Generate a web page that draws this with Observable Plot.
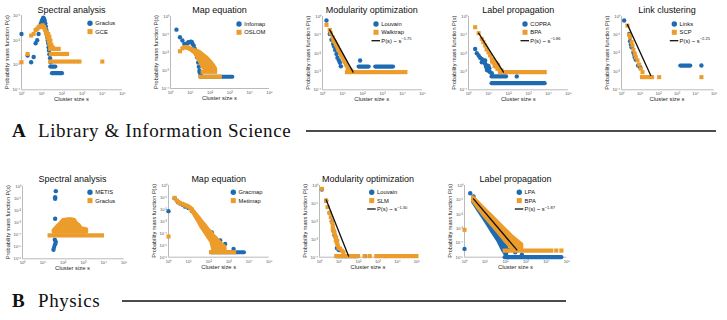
<!DOCTYPE html>
<html><head><meta charset="utf-8">
<script src="https://cdn.jsdelivr.net/npm/d3@7"></script>
<script src="https://cdn.jsdelivr.net/npm/@observablehq/plot@0.6"></script>
<style>
html,body{margin:0;padding:0;background:#fff;}
body{width:727px;height:320px;overflow:hidden;position:relative;font-family:"Liberation Sans",Arial,sans-serif;}
svg.panel{position:absolute;overflow:visible;background:transparent;}
#overlay{position:absolute;left:0;top:0;pointer-events:none;}
</style></head><body>
<script>
// ---------------- data ----------------
const xTicks = [1, 10, 100, 1e3, 1e4, 1e5];
const yTicks3 = [1e-4, 1e-3, 1e-2, 1e-1];
const yTicks4 = [1e-4, 1e-3, 1e-2, 1e-1, 1];
const yTicks5 = [1e-5, 1e-4, 1e-3, 1e-2, 1e-1, 1];
const yTicks6 = [1e-6, 1e-5, 1e-4, 1e-3, 1e-2, 1e-1, 1];

const titles = ["Spectral analysis","Map equation","Modularity optimization","Label propagation","Link clustering",
                "Spectral analysis","Map equation","Modularity optimization","Label propagation"];
const seriesNames = [["Graclus","GCE"],["Infomap","OSLOM"],["Louvain","Walktrap"],["COPRA","BPA"],["Links","SCP"],
                     ["METIS","Graclus"],["Gracmap","Metimap"],["Louvain","SLM"],["LPA","BPA"]];
const fitExponents = [null,null,"−1.75","−1.86","−2.25",null,null,"−1.30","−1.87"];
const sections = [["A","Library & Information Science"],["B","Physics"]];

// A1 Spectral analysis (LIS)
const a1GraclusPts = [[1,0.018],[2,0.0024],[3,0.0013],[4,0.0021],[5,0.0076],[6,0.01],[7,0.018],[8,0.034],[9,0.046],[10,0.059],[11,0.071],[12,0.081],[13,0.074],[14,0.063],[15,0.049],[16,0.036],[17,0.026],[18,0.018],[19,0.013],[20,0.0098],[21,0.0076],[22,0.0052],[23,0.0039],[24,0.0027],[26,0.0019],[28,0.0013]];
const a1GraclusBands = [[28,50,0.00087],[34,107,0.00047]];
const a1GcePts = [[1,0.0013],[2,0.0028],[3,0.0155],[4,0.018],[5,0.026],[6,0.029],[7,0.034],[8,0.036],[9,0.036],[10,0.034],[11,0.04],[12,0.036],[13,0.034],[14,0.029],[15,0.026],[16,0.021],[17,0.018],[18,0.021],[19,0.0155],[20,0.0126],[21,0.018],[22,0.0105],[23,0.0083],[24,0.014],[25,0.0067],[27,0.0098],[28,0.0052],[30,0.0066],[32,0.0045],[35,0.0052],[550,0.00138],[740,0.00138],[10000,0.00138]];
const a1GceBands = [[28,73,0.0045],[30,190,0.0028],[28,375,0.00138]];

// A2 Map equation (LIS)
const a2InfomapPts = [[2,0.186],[3,0.071],[4,0.046],[5,0.030],[6,0.030],[7,0.032],[8,0.037],[9,0.037],[10,0.039],[11,0.040],[12,0.037],[13,0.030],[15,0.024],[17,0.0155],[18,0.0117],[20,0.0083],[22,0.0054],[25,0.0028],[27,0.0016],[29,0.00098],[30,0.00078],[33,0.00058]];
const a2InfomapBands = [[35,1400,0.00045]];
const a2OslomPts = [[3,0.0117],[4,0.017],[5,0.0195],[6,0.0195],[7,0.0195],[8,0.0178],[9,0.017],[10,0.0158],[11,0.0158],[12,0.0138],[13,0.0145],[14,0.0126],[15,0.0117],[16,0.0126],[17,0.0102],[18,0.011],[20,0.0089]];
const a2OslomArea = [[20,0.0076,0.0126],[30,0.0035,0.0102],[45,0.0015,0.0072],[70,0.00098,0.0049],[100,0.00085,0.0032],[150,0.00085,0.0019],[190,0.00085,0.0012]];
const a2OslomBands = [[45,190,0.00085],[35,330,0.00045]];

// A3 Modularity optimization (LIS)
const a3LouvainPts = [[1.58,0.6],[2.3,0.11],[2.8,0.054],[3.4,0.032],[3.8,0.023],[4.3,0.015],[5,0.0091],[5.6,0.0056],[6.6,0.004],[7.4,0.003],[8.3,0.0019],[76,0.004]];
const a3LouvainBands = [[68,215,0.00186],[460,3560,0.00186]];
const a3WalktrapPts = [[1.58,0.35],[2.3,0.186],[2.6,0.123],[3.2,0.074],[3.8,0.049],[4.6,0.032],[5.6,0.021],[6.8,0.014],[8.3,0.0091],[10,0.006],[12.1,0.004],[14.7,0.0026],[17.8,0.0017],[21.5,0.0014],[3.5,0.05],[4.2,0.04],[5,0.026],[6,0.017],[7.5,0.011],[9,0.0075],[11,0.005],[13,0.0033],[16,0.0022],[19,0.0015],[24,0.0012],[28,0.0011]];
const a3WalktrapBands = [[17.8,316,0.00092],[460,2600,0.00092],[3900,14700,0.00092]];
const a3Fit = [[2.3,0.186],[34,0.00092]];

// A4 Label propagation (LIS)
const a4CopraPts = [[2.15,0.017],[2.6,0.01],[3.2,0.0074],[3.8,0.0056],[4.6,0.0049],[5.6,0.004],[6.3,0.0032],[6.8,0.0026],[8.3,0.0021],[9.3,0.0017],[10,0.0011],[12.1,0.00092],[14.7,0.0008],[4.6,0.0032],[6.8,0.004],[8.3,0.0012],[10,0.002],[7.5,0.0018],[11,0.0015],[260,0.00054]];
const a4CopraBands = [[15,80,0.00054],[15,6800,0.00023]];
const a4BpaPts = [[2.15,0.26],[3.2,0.123],[4.6,0.06],[6.8,0.026],[10,0.011],[14.7,0.0049],[21.5,0.0026],[31.6,0.0017],[46,0.0011],[15,0.0035],[18,0.003],[20,0.002],[25,0.0018],[28,0.0014],[35,0.0013],[40,0.0012],[25,0.0028],[30,0.0022],[17,0.0042],[12,0.0075],[8,0.016],[5.5,0.04]];
const a4BpaBands = [[40,6800,0.00092]];
const a4Fit = [[3.2,0.123],[56,0.00092]];

// A5 Link clustering (LIS)
const a5LinksPts = [[1.39,0.6],[2.6,0.11],[2.9,0.045],[3.2,0.03],[3.5,0.021],[4.4,0.011],[4.8,0.0085],[5.2,0.006],[5.9,0.0044],[7.9,0.0021],[10.2,0.0017],[20700,0.0021]];
const a5LinksBands = [[1600,5500,0.0021]];
const a5ScpPts = [[2.1,0.32],[2.6,0.1],[2.9,0.074],[3.5,0.04],[3.9,0.026],[4.4,0.015],[5.2,0.0091],[5.9,0.006],[7.3,0.004],[9,0.0024],[11,0.0014],[13.6,0.00092],[108,0.00049],[20700,0.00049]];
const a5ScpBands = [[13.6,47,0.00049]];
const a5Fit = [[2.1,0.36],[38,0.0006]];

// B1 Spectral analysis (Physics)
const b1MetisPts = [[43.6,0.41],[40.4,0.13],[40.4,0.095],[40.4,0.0021],[38.9,0.00022],[38.9,3.8e-5],[43.6,2.5e-5],[40.4,1.6e-5],[36,9.3e-6],[33.5,5.6e-6]];
const b1GraclusArea = [[36,1.6e-4,2.2e-4],[52,1.6e-4,4.3e-4],[77,1.6e-4,8.1e-4],[104,1.6e-4,0.0015],[163,1.6e-4,0.0017],[288,1.6e-4,0.0017],[372,1.6e-4,0.0015],[468,1.6e-4,8.1e-4],[617,1.6e-4,5.9e-4],[800,1.6e-4,3.1e-4],[1450,1.6e-4,2.6e-4]];
const b1GraclusBands = [[23,8600,8.7e-5]];

// B2 Map equation (Physics)
const b2GracmapPts = [[1,0.0071],[2,0.085],[3,0.04],[4,0.03],[5,0.024],[6.7,0.017],[9.8,0.013],[14.4,0.0075],[21,0.0035],[31,0.0015],[45,0.0007],[66,0.00028],[97,0.00012],[142,0.000115],[370,2.5e-5],[650,1.3e-5],[1700,4.9e-6]];
const b2GracmapBands = [[140,5900,2.6e-6]];
const b2MetimapPts = [[1,5.4e-5],[2,0.093],[2.6,0.055],[3.1,0.04],[3.8,0.033],[4.6,0.029],[5.6,0.026],[6.7,0.022],[8.1,0.02],[9.8,0.017],[11.9,0.0135],[14.4,0.0098]];
const b2MetimapArea = [[14.4,0.0081,0.011],[21.1,0.0031,0.0048],[31,0.001,0.0022],[45.2,0.00032,0.00096],[66,0.000123,0.00045],[97,4.7e-5,0.00019],[142,1.8e-5,0.0001],[175,4.1e-6,6e-5],[208,2.6e-6,4.7e-5],[304,2.6e-6,2.2e-5],[445,2.6e-6,1.15e-5],[650,2.6e-6,6.8e-6]];
const b2MetimapBands = [[140,1900,2.6e-6]];

// B3 Modularity optimization (Physics)
const b3LouvainPts = [[1.32,0.6],[2.2,0.14],[3.3,0.03],[4.3,0.01],[5.2,0.003],[5.9,0.0017],[6.4,0.0015],[7.8,0.00033],[8.7,0.0003],[10,0.00025],[220,0.000115],[2350,0.000115]];
const b3LouvainBands = [[8,100,0.000115]];
const b3SlmPts = [[1.32,0.65],[2.2,0.145],[2.6,0.062],[3.3,0.029],[3.8,0.017],[4.3,0.009],[4.8,0.0059],[5.2,0.0031],[5.9,0.0022],[6.4,0.0014],[6.9,0.00085],[7.8,0.0006],[8.7,0.00045],[9.5,0.00033],[11.5,0.0003],[14,0.00023],[17,0.00019],[4.8,0.0038],[5.6,0.0027],[7.2,0.0012],[8.2,0.0008]];
const b3SlmBands = [[7.8,100,0.000115],[220,220,0.000115],[400,400,0.000115],[880,100000,0.000115]];
const b3Fit = [[2.2,0.158],[31,0.000115]];

// B4 Label propagation (Physics)
const b4LpaPts = [[1,3.8e-5],[1.9,0.29],[2.75,0.17],[141,3.2e-5],[300,2.2e-5],[630,1.5e-5]];
const b4LpaArea = [[2.75,0.069,0.117],[4.8,0.02,0.034],[10.2,0.004,0.0081],[21.7,0.00072,0.0019],[45.8,0.000145,0.00047],[80,2.9e-5,0.000145],[115,1.3e-5,6.5e-5]];
const b4LpaBands = [[97,57000,1e-5]];
const b4BpaPts = [[1,8.1e-4],[2.75,0.1]];
const b4BpaArea = [[2.75,0.081,0.138],[4.8,0.028,0.059],[10.2,0.0069,0.02],[21.7,0.0019,0.0069],[45.8,0.00055,0.0024],[97,0.000145,0.00081],[205,4.5e-5,0.00028],[435,3.2e-5,0.000112],[630,3.2e-5,7.6e-5]];
const b4BpaBands = [[97,18500,2.9e-5],[32000,32000,2.9e-5],[57000,57000,2.9e-5]];
const b4Fit = [[2.75,0.117],[360,3.2e-5]];

// ---------------- styling / layout ----------------
const BLUE = "#1f6bb2", ORANGE = "#ec9c2b", AXIS = "#a8a8a8", TICKTXT = "#555";
const layout = [
  {x1:21, x2:122, y1:15, y2:89.3, lx:90, ly:23.3, ty:12.5},
  {x1:170, x2:269, y1:16, y2:88, lx:239, ly:24, ty:12.5},
  {x1:321.7, x2:421.7, y1:16, y2:89.3, lx:376, ly:24, ty:12.5},
  {x1:468.3, x2:568.3, y1:16, y2:89.3, lx:525, ly:24, ty:12.5},
  {x1:620.7, x2:713.3, y1:16, y2:89.3, lx:674.3, ly:24, ty:12.5},
  {x1:21.7, x2:123.3, y1:186, y2:258.3, lx:90, ly:192.3, ty:181.5},
  {x1:168.3, x2:269, y1:185, y2:256.7, lx:233.3, ly:192.3, ty:181.5},
  {x1:319.3, x2:416.7, y1:185, y2:256.7, lx:371.7, ly:192.3, ty:181.5},
  {x1:464.3, x2:566.7, y1:185, y2:256.7, lx:519.3, ly:192.3, ty:181.5}
];
const sectionLayout = [{y:137, lineX1:306, lineX2:716, lineY:131},{y:307, lineX1:122, lineX2:566, lineY:301}];

const panels = [
  {yDomain:[1e-4,1e-1], yTicks:yTicks3, series:[{color:BLUE,shape:"circle",pts:a1GraclusPts,bands:a1GraclusBands},{color:ORANGE,shape:"square",pts:a1GcePts,bands:a1GceBands}]},
  {yDomain:[1e-4,1], yTicks:yTicks4, series:[{color:BLUE,shape:"circle",pts:a2InfomapPts,bands:a2InfomapBands},{color:ORANGE,shape:"square",pts:a2OslomPts,area:a2OslomArea,bands:a2OslomBands}]},
  {yDomain:[1e-4,1], yTicks:yTicks4, series:[{color:BLUE,shape:"circle",pts:a3LouvainPts,bands:a3LouvainBands},{color:ORANGE,shape:"square",pts:a3WalktrapPts,bands:a3WalktrapBands}], fit:a3Fit},
  {yDomain:[1e-4,1], yTicks:yTicks4, series:[{color:BLUE,shape:"circle",pts:a4CopraPts,bands:a4CopraBands},{color:ORANGE,shape:"square",pts:a4BpaPts,bands:a4BpaBands}], fit:a4Fit},
  {yDomain:[1e-4,1], yTicks:yTicks4, series:[{color:BLUE,shape:"circle",pts:a5LinksPts,bands:a5LinksBands},{color:ORANGE,shape:"square",pts:a5ScpPts,bands:a5ScpBands}], fit:a5Fit},
  {yDomain:[1e-6,1], yTicks:yTicks6, series:[{color:BLUE,shape:"circle",pts:b1MetisPts},{color:ORANGE,shape:"square",area:b1GraclusArea,bands:b1GraclusBands}]},
  {yDomain:[1e-6,1], yTicks:yTicks6, series:[{color:BLUE,shape:"circle",pts:b2GracmapPts,bands:b2GracmapBands},{color:ORANGE,shape:"square",pts:b2MetimapPts,area:b2MetimapArea,bands:b2MetimapBands}]},
  {yDomain:[1e-4,1], yTicks:yTicks4, series:[{color:BLUE,shape:"circle",pts:b3LouvainPts,bands:b3LouvainBands},{color:ORANGE,shape:"square",pts:b3SlmPts,bands:b3SlmBands}], fit:b3Fit},
  {yDomain:[1e-5,1], yTicks:yTicks5, series:[{color:BLUE,shape:"circle",pts:b4LpaPts,area:b4LpaArea,bands:b4LpaBands},{color:ORANGE,shape:"square",pts:b4BpaPts,area:b4BpaArea,bands:b4BpaBands}], fit:b4Fit}
];

const SUP = {"-":"⁻","0":"⁰","1":"¹","2":"²","3":"³","4":"⁴","5":"⁵","6":"⁶","7":"⁷","8":"⁸","9":"⁹"};
const pow10 = d => "10" + String(Math.round(Math.log10(d))).split("").map(c => SUP[c]).join("");

function makePanel(P, L) {
  const mL = 16, mR = 4, mT = 4, mB = 10;
  const W = L.x2 - L.x1, H = L.y2 - L.y1;
  const marks = [
    Plot.ruleX([xTicks[0]], {stroke: AXIS, strokeWidth: 0.8}),
    Plot.ruleY([P.yDomain[0]], {stroke: AXIS, strokeWidth: 0.8}),
    Plot.axisX({ticks: xTicks, tickFormat: pow10, tickSize: 0, tickPadding: 2.5, fontSize: 4.2, label: null, fill: TICKTXT}),
    Plot.axisY({ticks: P.yTicks, tickFormat: pow10, tickSize: 0, tickPadding: 1.5, fontSize: 4.2, label: null, fill: TICKTXT})
  ];
  for (const s of P.series) {
    if (s.area) marks.push(Plot.areaY(s.area, {x: d => d[0], y1: d => d[1], y2: d => d[2], fill: s.color, stroke: s.color, strokeWidth: 4, strokeLinejoin: "round"}));
    if (s.bands) marks.push(Plot.ruleY(s.bands, {x1: d => d[0], x2: d => d[1], y: d => d[2], stroke: s.color, strokeWidth: 4.2, strokeLinecap: s.shape === "circle" ? "round" : "square"}));
    if (s.pts) marks.push(Plot.dot(s.pts, {x: d => d[0], y: d => d[1], r: s.shape === "circle" ? 2.2 : 2.3, symbol: s.shape, fill: s.color, stroke: "none"}));
  }
  if (P.fit) marks.push(Plot.line(P.fit, {x: d => d[0], y: d => d[1], stroke: "#111", strokeWidth: 1.3}));
  const svg = Plot.plot({
    width: W + mL + mR, height: H + mT + mB,
    marginLeft: mL, marginRight: mR, marginTop: mT, marginBottom: mB,
    x: {type: "log", domain: [xTicks[0], xTicks[xTicks.length - 1]]},
    y: {type: "log", domain: P.yDomain},
    style: {fontFamily: "Liberation Sans, Arial, sans-serif", background: "transparent", overflow: "visible", color: TICKTXT},
    marks
  });
  svg.classList.add("panel");
  svg.style.left = (L.x1 - mL) + "px";
  svg.style.top = (L.y1 - mT) + "px";
  document.body.appendChild(svg);
}

panels.forEach((P, i) => makePanel(P, layout[i]));

// ---------------- overlay text: titles, axis labels, legends, sections ----------------
const ov = d3.select(document.body).append("svg").attr("id", "overlay").attr("width", 727).attr("height", 320)
  .style("font-family", "Liberation Sans, Arial, sans-serif");

layout.forEach((L, i) => {
  const cx = (L.x1 + L.x2) / 2, cy = (L.y1 + L.y2) / 2;
  ov.append("text").attr("x", cx).attr("y", L.ty).attr("text-anchor", "middle").attr("font-size", 9).attr("fill", "#111").text(titles[i]);
  const xl = ov.append("text").attr("x", cx).attr("y", L.y2 + 12).attr("text-anchor", "middle").attr("font-size", 5.8).attr("fill", "#222");
  xl.append("tspan").text("Cluster size ");
  xl.append("tspan").attr("font-style", "italic").text("s");
  const yl = ov.append("text").attr("transform", `translate(${L.x1 - 12},${cy}) rotate(-90)`).attr("text-anchor", "middle").attr("font-size", 5.6).attr("fill", "#222");
  yl.append("tspan").text("Probability mass function P(");
  yl.append("tspan").attr("font-style", "italic").text("s");
  yl.append("tspan").text(")");
  // legend
  const g = ov.append("g");
  g.append("circle").attr("cx", L.lx).attr("cy", L.ly).attr("r", 2.7).attr("fill", BLUE);
  g.append("rect").attr("x", L.lx - 2.5).attr("y", L.ly + 8.3 - 2.5).attr("width", 5).attr("height", 5).attr("fill", ORANGE);
  const names = seriesNames[i];
  g.append("text").attr("x", L.lx + 5.3).attr("y", L.ly + 2).attr("font-size", 5.8).attr("fill", "#111").text(names[0]);
  g.append("text").attr("x", L.lx + 5.3).attr("y", L.ly + 8.3 + 2).attr("font-size", 5.8).attr("fill", "#111").text(names[1]);
  if (fitExponents[i]) {
    const yy = L.ly + 16.7;
    g.append("line").attr("x1", L.lx - 4.5).attr("x2", L.lx + 4).attr("y1", yy).attr("y2", yy).attr("stroke", "#111").attr("stroke-width", 1.3);
    const t = g.append("text").attr("x", L.lx + 5.3).attr("y", yy + 2).attr("font-size", 5.8).attr("fill", "#111");
    t.append("tspan").text("P(s) ~ s");
    t.append("tspan").attr("dy", -2.4).attr("font-size", 4).text(fitExponents[i]);
  }
});

sections.forEach((S, i) => {
  const L = sectionLayout[i];
  ov.append("text").attr("x", 12).attr("y", L.y).attr("font-family", "Liberation Serif, DejaVu Serif, serif").attr("font-weight", "bold").attr("font-size", 19).attr("fill", "#111").text(S[0]);
  ov.append("text").attr("x", 38).attr("y", L.y).attr("font-family", "Liberation Serif, DejaVu Serif, serif").attr("font-size", 19).attr("letter-spacing", 0.6).attr("fill", "#111").text(S[1]);
  ov.append("line").attr("x1", L.lineX1).attr("x2", L.lineX2).attr("y1", L.lineY).attr("y2", L.lineY).attr("stroke", "#111").attr("stroke-width", 1.5);
});
</script>
</body></html>
